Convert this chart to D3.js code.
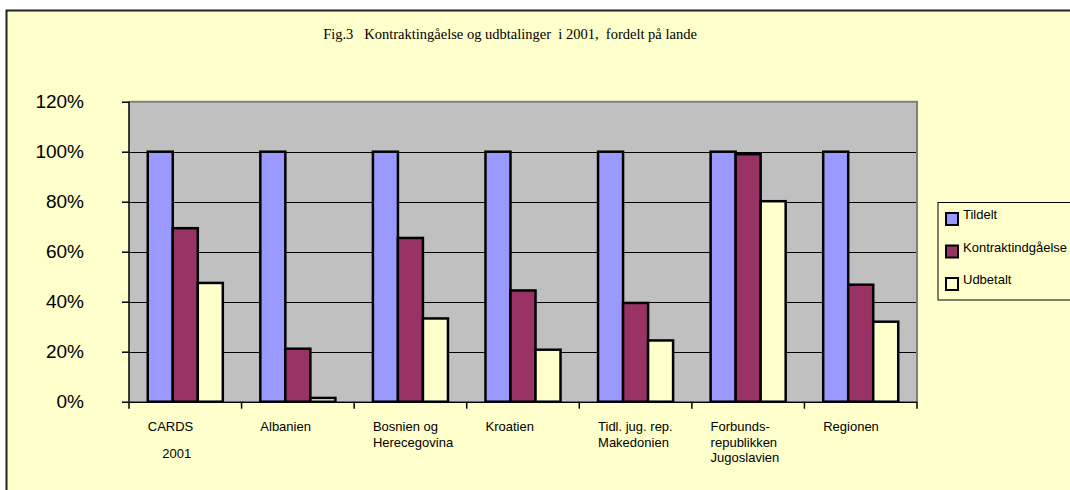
<!DOCTYPE html>
<html><head><meta charset="utf-8">
<script src="https://cdn.jsdelivr.net/npm/d3@7"></script>
<style>body{margin:0;background:#fff}svg{display:block}</style>
</head><body>
<svg id="c" width="1070" height="490"></svg>
<script>
const categories = [
  ["CARDS", "", "\u00a0\u00a0\u00a0\u00a02001"],
  ["Albanien"],
  ["Bosnien og", "Herecegovina"],
  ["Kroatien"],
  ["Tidl. jug. rep.", "Makedonien"],
  ["Forbunds-", "republikken", "Jugoslavien"],
  ["Regionen"]
];
const seriesNames = ["Tildelt", "Kontraktindgåelse", "Udbetalt"];
const tildelt = [100, 100, 100, 100, 100, 100, 100];
const kontrakt = [69.4, 21.2, 65.5, 44.5, 39.5, 99, 46.8];
const udbetalt = [47.5, 1.5, 33.3, 20.8, 24.5, 80.2, 32];
const yTicks = [0, 20, 40, 60, 80, 100, 120];
const colors = ["#9999FF", "#993366", "#FFFFCC"];
const title = "Fig.3\u00a0\u00a0 Kontraktingåelse og udbtalinger\u00a0 i 2001,\u00a0 fordelt på lande";

const series = [tildelt, kontrakt, udbetalt];
const svg = d3.select("#c");

// chart area
svg.append("rect").attr("x", 6.5).attr("y", 10.5).attr("width", 1080).attr("height", 500)
  .attr("fill", "#FFFFCC").attr("stroke", "#222").attr("stroke-width", 2);

svg.append("text").attr("x", 510).attr("y", 39).attr("text-anchor", "middle")
  .attr("font-family", "Liberation Serif, Times New Roman, serif").attr("font-size", 14.5)
  .text(title);

const L = 129, R = 917, T = 101.7, B = 401.7;
const x0 = d3.scaleBand().domain(d3.range(categories.length)).range([L, R]).paddingInner(0).paddingOuter(0);
const gap = x0.bandwidth() / 6;
const x1 = d3.scaleBand().domain(d3.range(series.length)).range([gap, x0.bandwidth() - gap]);
const y = d3.scaleLinear().domain([0, 120]).range([B, T]);

// plot background
svg.append("rect").attr("x", L).attr("y", T).attr("width", R - L).attr("height", B - T).attr("fill", "#C0C0C0");
// grid
svg.append("g").selectAll("line").data(yTicks.filter(v => v > 0 && v < 120)).join("line")
  .attr("x1", L).attr("x2", R).attr("y1", d => Math.round(y(d)) + 0.5).attr("y2", d => Math.round(y(d)) + 0.5)
  .attr("stroke", "#000").attr("stroke-width", 1);
// plot border top/right
svg.append("path").attr("d", `M${L},${T} H${R} V${B}`).attr("fill", "none").attr("stroke", "#808080").attr("stroke-width", 2);

// bars
const g = svg.append("g");
series.forEach((s, si) => {
  g.selectAll(null).data(s).join("rect")
    .attr("x", (d, i) => x0(i) + x1(si))
    .attr("y", d => y(d))
    .attr("width", x1.bandwidth())
    .attr("height", d => B - y(d))
    .attr("fill", colors[si]).attr("stroke", "#000").attr("stroke-width", 2.5);
});

// y axis
const yAxis = d3.axisLeft(y).tickValues(yTicks).tickFormat(d => d + "%").tickSize(7).tickPadding(38);
const ya = svg.append("g").attr("transform", `translate(${L},0)`).call(yAxis);
ya.select(".domain").attr("stroke", "#000").attr("stroke-width", 1.5).attr("d", `M0,${T}V${B}`);
ya.selectAll(".tick line").attr("stroke", "#000").attr("stroke-width", 1.5);
ya.selectAll(".tick text").attr("font-family", "Liberation Sans, Arial, sans-serif").attr("font-size", 19).attr("fill", "#000");

// x axis
const xEdges = d3.range(categories.length + 1).map(i => L + i * x0.step());
const xa = svg.append("g");
xa.append("line").attr("x1", L).attr("x2", R).attr("y1", B + 0.5).attr("y2", B + 0.5).attr("stroke", "#000").attr("stroke-width", 1.5);
xa.selectAll("line.t").data(xEdges).join("line").attr("class", "t")
  .attr("x1", d => d).attr("x2", d => d).attr("y1", B).attr("y2", B + 7).attr("stroke", "#000").attr("stroke-width", 1.5);

const lab = svg.append("g").attr("font-family", "Liberation Sans, Arial, sans-serif").attr("font-size", 13).attr("fill", "#000");
categories.forEach((lines, i) => {
  let yy = 431;
  const t = lab.append("text").attr("xml:space", "preserve");
  lines.forEach((ln, k) => {
    if (k > 0) yy += (lines[k - 1] === "" ? 11 : 15.5);
    if (ln !== "") t.append("tspan").attr("x", x0(i) + gap).attr("y", yy).text(ln);
  });
});

// legend
const lg = svg.append("g");
lg.append("rect").attr("x", 938).attr("y", 202.5).attr("width", 150).attr("height", 97.5)
  .attr("fill", "#FFFFCC").attr("stroke", "#000").attr("stroke-width", 1);
seriesNames.forEach((n, i) => {
  const yy = 213 + i * 32.5;
  lg.append("rect").attr("x", 946).attr("y", yy).attr("width", 12).attr("height", 12)
    .attr("fill", colors[i]).attr("stroke", "#000").attr("stroke-width", 2);
  lg.append("text").attr("x", 963).attr("y", yy + 6).attr("font-family", "Liberation Sans, Arial, sans-serif")
    .attr("font-size", 13).text(n);
});
</script>
</body></html>
